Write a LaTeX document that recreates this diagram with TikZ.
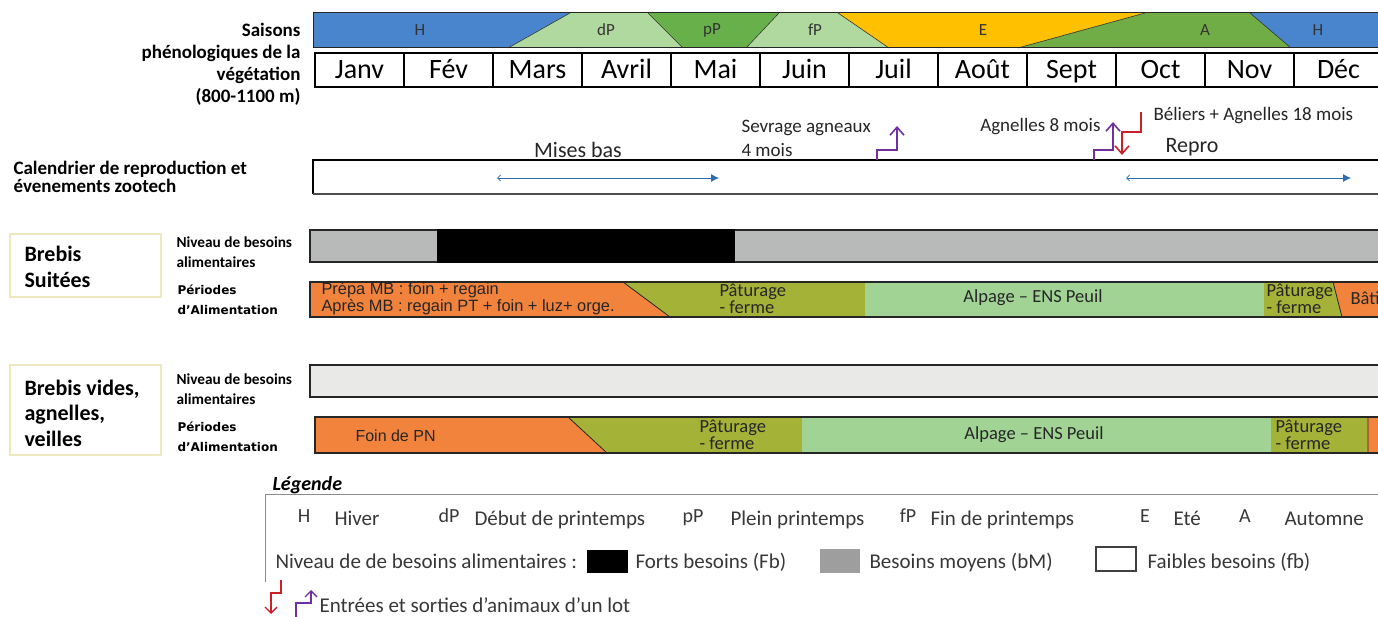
\documentclass[tikz,border=0pt]{standalone}
\usepackage{fontspec}
\setmainfont{Carlito}
\newfontfamily\arialfont{Liberation Sans}
\newfontfamily\tahomafont{DejaVu Sans}
\usetikzlibrary{arrows.meta}

\definecolor{hiver}{RGB}{72,133,204}
\definecolor{debutp}{RGB}{176,217,160}
\definecolor{pleinp}{RGB}{104,176,74}
\definecolor{ete}{RGB}{255,192,0}
\definecolor{automne}{RGB}{112,173,71}
\definecolor{bmoyen}{RGB}{184,186,185}
\definecolor{bfaible}{RGB}{233,233,231}
\definecolor{foin}{RGB}{241,131,61}
\definecolor{paturage}{RGB}{165,178,56}
\definecolor{alpage}{RGB}{160,211,148}
\definecolor{entree}{RGB}{112,48,160}
\definecolor{sortie}{RGB}{204,32,40}
\definecolor{fleche}{RGB}{46,108,178}
\definecolor{cadre}{RGB}{238,232,190}

\tikzset{
  season/.style={font=\fontsize{17}{17}\selectfont, text=black!80},
  month/.style={font=\fontsize{28}{28}\selectfont, anchor=base},
  rowtitle/.style={font=\fontsize{19}{22}\selectfont\bfseries, align=right, anchor=east},
  lot/.style={draw=cadre, line width=1.2pt},
  lottitle/.style={font=\fontsize{22}{25.5}\selectfont\bfseries, align=left, anchor=west},
  besoin/.style={font=\fontsize{15.3}{20}\selectfont\bfseries, align=left, anchor=west},
  periode/.style={font=\tahomafont\fontsize{12}{20}\selectfont\bfseries, align=left, anchor=west},
  bar/.style={draw=black!85, line width=1.2pt},
  feed/.style={font=\fontsize{18.5}{17}\selectfont, text=black!85, align=left},
  feedarial/.style={font=\arialfont\fontsize{16.4}{17}\selectfont, text=black!85, align=left},
  event/.style={font=\fontsize{19}{24}\selectfont, text=black!85, align=left},
  periodarrow/.style={draw=fleche, line width=0.8pt, arrows={Straight Barb[length=3pt,width=6pt]-Latex[length=8pt,width=8pt]}},
  inarrow/.style={draw=entree, line width=1.6pt, -{Straight Barb[length=8pt,width=14pt]}},
  outarrow/.style={draw=sortie, line width=1.6pt, -{Straight Barb[length=8pt,width=14pt]}},
  legtext/.style={font=\fontsize{21}{21}\selectfont, text=black!78, anchor=base west},
  legabbr/.style={font=\fontsize{20}{20}\selectfont, text=black!78, anchor=base},
}

\begin{document}
\begin{tikzpicture}[x=1pt, y=-1pt]
    \fill[white] (0,0) rectangle (1378,617);
    \useasboundingbox (0,0) rectangle (1378,617);

    % saisons
    \fill[hiver] (313,13) -- (570,13) -- (508,48) -- (313,48) -- cycle;
    \fill[debutp] (570,13) -- (648,13) -- (683,48) -- (508,48) -- cycle;
    \fill[pleinp] (648,13) -- (779,13) -- (746,48) -- (683,48) -- cycle;
    \fill[debutp] (779,13) -- (838,13) -- (889,48) -- (746,48) -- cycle;
    \fill[ete] (838,13) -- (1145,13) -- (1018,48) -- (889,48) -- cycle;
    \fill[automne] (1145,13) -- (1250,13) -- (1291,48) -- (1018,48) -- cycle;
    \fill[hiver] (1250,13) -- (1390,13) -- (1390,48) -- (1291,48) -- cycle;
    \draw[black!80, line width=0.6pt] (570,13) -- (508,48) (648,13) -- (683,48) (779,13) -- (746,48)
        (838,13) -- (889,48) (1145,13) -- (1018,48) (1250,13) -- (1291,48);
    \draw[black!85, line width=1pt] (313,13) rectangle (1390,48);
    \node[season] (sH) at (420,30) {H};
    \node[season] (sdP) at (606,30) {dP};
    \node[season] (spP) at (712,30) {pP};
    \node[season] (sfP) at (815,30) {fP};
    \node[season] (sE) at (983,30) {E};
    \node[season] (sA) at (1205,30) {A};
    \node[season] (sH2) at (1318,30) {H};

    \foreach \mois [count=\i from 0] in {Janv,Fév,Mars,Avril,Mai,Juin,Juil,Août,Sept,Oct,Nov,Déc} {
        \draw[line width=1.6pt] ({315+89*\i},53) rectangle ++(89,34);
        \node[month] (m\i) at ({359.5+89*\i},79) {\mois};
    }
    \node[rowtitle] (saisons) at (304,64) {Saisons\\phénologiques de la\\végétation\hspace*{6pt}\\(800-1100 m)};

    % reproduction
    \draw[line width=1.6pt] (1390,160) -- (313,160) -- (313,194);
    \draw[black!70, line width=1.4pt] (313,194) -- (1390,194);
    \node[font=\fontsize{19}{18}\selectfont\bfseries, align=left, anchor=west] (calendrier) at (10,177) {Calendrier de reproduction et\\évenements zootech};
    \coordinate (mbdeb) at (497,178);
    \coordinate (mbfin) at (719,178);
    \draw[periodarrow] (mbdeb) -- (mbfin);
    \node[event, font=\fontsize{22}{22}\selectfont] (misesbas) at (578,150) {Mises bas};
    \coordinate (repdeb) at (1126,178);
    \coordinate (repfin) at (1351,178);
    \draw[periodarrow] (repdeb) -- (repfin);
    \node[event, font=\fontsize{22}{22}\selectfont] (repro) at (1192,147) {Repro};
    \node[event, anchor=west] (sevrage) at (738,138) {Sevrage agneaux\\4 mois};
    \draw[inarrow] (877,160) |- (897,150) -- (897,126);
    \node[event, anchor=east] (agnelles) at (1104,127) {Agnelles 8 mois};
    \draw[inarrow] (1094,160) |- (1113,150) -- (1113,122);
    \draw[outarrow] (1141,112) |- (1122,132) -- (1122,155);
    \node[event, anchor=west] (beliers) at (1150,116) {Béliers + Agnelles 18 mois};

    % brebis suitees
    \draw[lot] (10,234) rectangle (161,297);
    \node[lottitle] (suitees) at (21,267) {Brebis\\Suitées};
    \node[besoin] (besoin1) at (173,252) {Niveau de besoins\\alimentaires};
    \node[periode] (periode1) at (174,300) {Périodes\\d’Alimentation};
    \filldraw[bar, fill=bmoyen] (310,230) rectangle (1390,262);
    \fill[black] (437,229) rectangle (735,263);
    \fill[foin] (310,282) -- (623,282) -- (670,317) -- (310,317) -- cycle;
    \fill[paturage] (623,282) -- (865,282) -- (865,317) -- (670,317) -- cycle;
    \fill[alpage] (865,282) -- (1264,282) -- (1264,317) -- (865,317) -- cycle;
    \fill[paturage] (1264,282) -- (1333,282) -- (1342,317) -- (1264,317) -- cycle;
    \fill[foin] (1333,282) -- (1390,282) -- (1390,317) -- (1342,317) -- cycle;
    \draw[bar] (1390,282) -- (310,282) -- (310,317) -- (1390,317);
    \draw[black!85, line width=0.8pt] (623,282) -- (670,317) (1333,282) -- (1342,317);
    \node[feedarial, anchor=west] (prepa) at (318,299) {Prépa MB : foin + regain\\Après MB : regain PT + foin + luz+ orge.};
    \node[feed, anchor=west] (paturage1) at (716,299) {Pâturage\\- ferme};
    \node[feed] (alpage1) at (1033,298) {Alpage – ENS Peuil};
    \node[feed, anchor=west] (paturage2) at (1263,299) {Pâturage\\- ferme};
    \node[feed, anchor=west] (bati) at (1347,298) {Bâti};

    % brebis vides
    \draw[lot] (10,365) rectangle (161,455);
    \node[lottitle] (vides) at (21,413) {Brebis vides,\\agnelles,\\veilles};
    \node[besoin] (besoin2) at (173,389) {Niveau de besoins\\alimentaires};
    \node[periode] (periode2) at (174,437) {Périodes\\d’Alimentation};
    \filldraw[bar, fill=bfaible] (310,365) rectangle (1390,397);
    \fill[foin] (315,417) -- (568,417) -- (607,453) -- (315,453) -- cycle;
    \fill[paturage] (568,417) -- (802,417) -- (802,453) -- (607,453) -- cycle;
    \fill[alpage] (802,417) -- (1271,417) -- (1271,453) -- (802,453) -- cycle;
    \fill[paturage] (1271,417) -- (1368,417) -- (1368,453) -- (1271,453) -- cycle;
    \fill[foin] (1368,417) -- (1390,417) -- (1390,453) -- (1368,453) -- cycle;
    \draw[bar] (1390,417) -- (315,417) -- (315,453) -- (1390,453);
    \draw[black!85, line width=0.8pt] (568,417) -- (607,453) (1368,417) -- (1368,453);
    \node[feedarial, font=\arialfont\fontsize{16}{16}\selectfont, anchor=west] (foinpn) at (352,436) {Foin de PN};
    \node[feed, anchor=west] (paturage3) at (696,435) {Pâturage\\- ferme};
    \node[feed] (alpage2) at (1034,435) {Alpage – ENS Peuil};
    \node[feed, anchor=west] (paturage4) at (1272,435) {Pâturage\\- ferme};

    % legende
    \node[font=\fontsize{20}{20}\selectfont\bfseries\itshape, anchor=west] (legende) at (269,485) {Légende};
    \draw[black!45, line width=1pt] (265,582) -- (265,494) -- (1390,494);
    \node[legabbr] (lH) at (304,522) {H};
    \node[legtext] (lhiver) at (331,525) {Hiver};
    \node[legabbr] (ldP) at (449,522) {dP};
    \node[legtext] (ldebut) at (471,525) {Début de printemps};
    \node[legabbr] (lpP) at (693,522) {pP};
    \node[legtext] (lplein) at (727,525) {Plein printemps};
    \node[legabbr] (lfP) at (908,522) {fP};
    \node[legtext] (lfin) at (927,525) {Fin de printemps};
    \node[legabbr] (lE) at (1145,522) {E};
    \node[legtext] (lete) at (1170,525) {Eté};
    \node[legabbr] (lA) at (1245,522) {A};
    \node[legtext] (lautomne) at (1281,525) {Automne};
    \node[legtext] (lniveau) at (272,568) {Niveau de de besoins alimentaires :};
    \fill[black] (587,550) rectangle (628,573);
    \node[legtext] (lfort) at (632,568) {Forts besoins (Fb)};
    \fill[black!38] (820,549) rectangle (860,573);
    \node[legtext] (lmoyen) at (866,568) {Besoins moyens (bM)};
    \draw[black!75, line width=1.2pt] (1096,547) rectangle (1136,571);
    \node[legtext] (lfaible) at (1144,568) {Faibles besoins (fb)};
    \draw[outarrow, line width=1.3pt, -{Straight Barb[length=6pt,width=12pt]}] (281,580) |- (271,593) -- (271,614);
    \draw[inarrow, line width=1.3pt, -{Straight Barb[length=6pt,width=12pt]}] (296,617) |- (311,603) -- (311,590);
    \node[legtext] (lentree) at (316,612) {Entrées et sorties d’animaux d’un lot};
\end{tikzpicture}
\end{document}
